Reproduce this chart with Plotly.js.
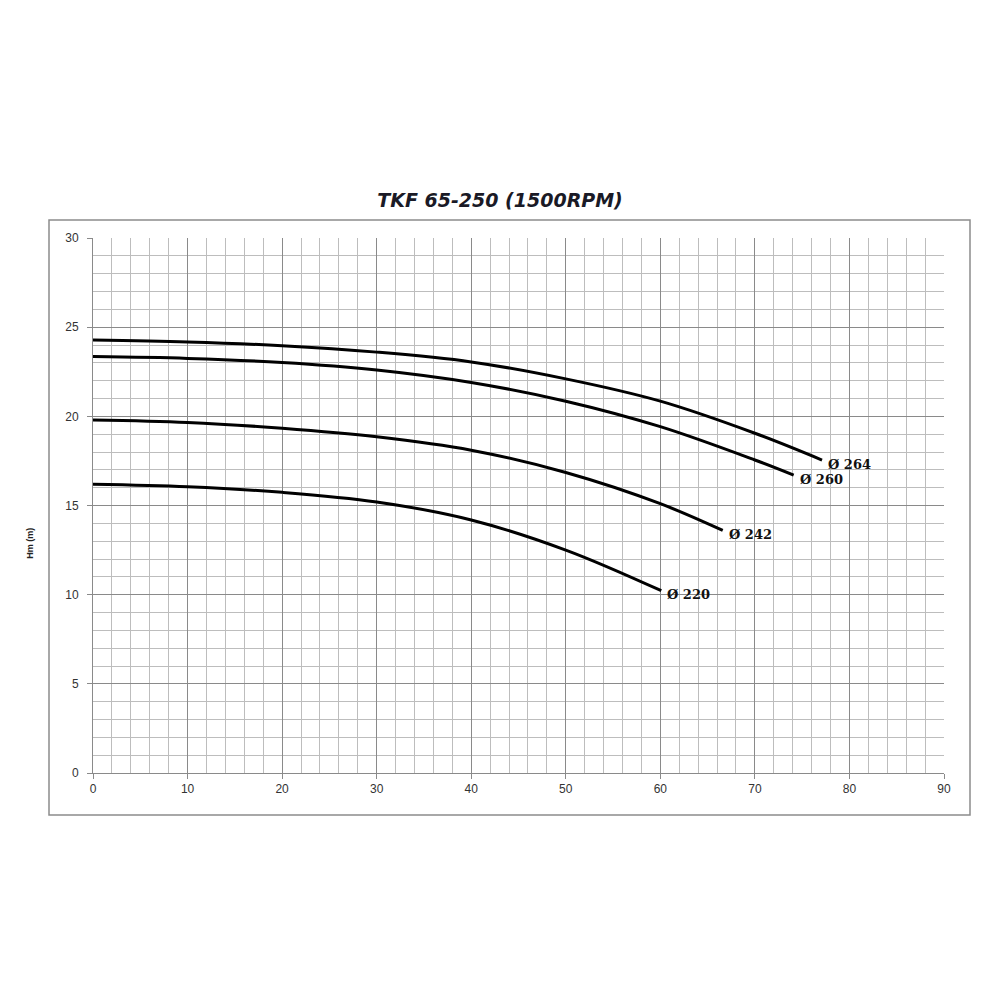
<!DOCTYPE html>
<html><head><meta charset="utf-8">
<script src="https://cdn.plot.ly/plotly-3.0.1.min.js"></script>
<style>html,body{margin:0;padding:0;background:#fff}</style>
</head><body>
<div id="chart" style="width:1000px;height:1000px"></div>
<script>
const title = "TKF 65-250 (1500RPM)";
const yTitle = "Hm (m)";
const labels = ["Ø 264", "Ø 260", "Ø 242", "Ø 220"];
const q264 = [0, 10, 20, 30, 40, 50, 60, 70, 77.1];
const h264 = [24.28, 24.17, 23.96, 23.6, 23.05, 22.1, 20.85, 19.05, 17.55];
const q260 = [0, 10, 20, 30, 40, 50, 60, 70, 74.1];
const h260 = [23.35, 23.25, 23.02, 22.6, 21.9, 20.85, 19.42, 17.55, 16.7];
const q242 = [0, 10, 20, 30, 40, 50, 60, 66.6];
const h242 = [19.8, 19.66, 19.33, 18.85, 18.1, 16.85, 15.1, 13.6];
const q220 = [0, 10, 20, 30, 40, 50, 60.1];
const h220 = [16.19, 16.05, 15.74, 15.2, 14.19, 12.5, 10.22];

const series = [[q264,h264],[q260,h260],[q242,h242],[q220,h220]];
const traces = series.map(s => ({
  x: s[0], y: s[1], type: 'scatter', mode: 'lines',
  line: {color: '#000', width: 3, shape: 'spline', smoothing: 1},
  hoverinfo: 'skip'
}));
const annotations = series.map((s, i) => ({
  x: s[0][s[0].length-1], y: s[1][s[1].length-1], xref: 'x', yref: 'y',
  text: '<b>' + labels[i] + '</b>', showarrow: false, xanchor: 'left', yanchor: 'middle',
  xshift: 4, yshift: -4,
  font: {family: 'DejaVu Serif, Liberation Serif, serif', size: 13, color: '#111'}
}));
annotations.push({
  x: -0.066, y: 0.43, xref: 'paper', yref: 'paper', text: '<b>' + yTitle + '</b>',
  textangle: -90, showarrow: false, xanchor: 'right',
  font: {family: 'Liberation Sans, Arial, sans-serif', size: 9, color: '#222'}
});
const W = 851, H = 535;
const layout = {
  width: 1000, height: 1000,
  margin: {l: 93, r: 56, t: 238, b: 227},
  paper_bgcolor: '#fff', plot_bgcolor: '#fff',
  showlegend: false,
  title: {text: '<b><i>' + title + '</i></b>', x: 0.5, xanchor: 'center', y: 0.8, yanchor: 'middle',
    font: {family: 'DejaVu Sans, Liberation Sans, sans-serif', size: 19, color: '#1a1a26'}},
  xaxis: {range: [0, 90], dtick: 10, tick0: 0, showgrid: true, gridcolor: '#8a8a8a', gridwidth: 1,
    minor: {dtick: 2, showgrid: true, gridcolor: '#bdbdbd', gridwidth: 1},
    zeroline: false, showline: true, linecolor: '#8a8a8a', linewidth: 1,
    ticks: 'outside', ticklen: 5, tickcolor: '#8a8a8a',
    tickfont: {family: 'Liberation Sans, Arial, sans-serif', size: 12, color: '#333'}, fixedrange: true},
  yaxis: {range: [0, 30], dtick: 5, tick0: 0, showgrid: true, gridcolor: '#8a8a8a', gridwidth: 1,
    minor: {dtick: 1, showgrid: true, gridcolor: '#bdbdbd', gridwidth: 1},
    zeroline: false, showline: true, linecolor: '#8a8a8a', linewidth: 1,
    ticks: 'outside', ticklen: 5, tickcolor: '#8a8a8a', ticklabelstandoff: 6,
    tickfont: {family: 'Liberation Sans, Arial, sans-serif', size: 12, color: '#333'}, fixedrange: true},
  shapes: [{type: 'rect', xref: 'paper', yref: 'paper',
    x0: (49-93)/W, x1: (970-93)/W, y0: (773-815)/H, y1: (773-220)/H,
    line: {color: '#8c8c8c', width: 1.5}, fillcolor: 'rgba(0,0,0,0)', layer: 'below'}],
  annotations: annotations
};
Plotly.newPlot('chart', traces, layout, {displayModeBar: false, staticPlot: true});
</script>
</body></html>
